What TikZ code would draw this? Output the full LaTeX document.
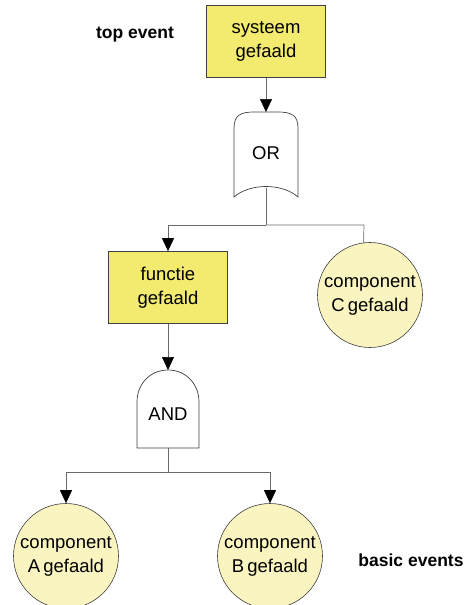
\documentclass[tikz,border=0pt]{standalone}
\usepackage{fontspec}
\setmainfont{Liberation Sans}
\usetikzlibrary{arrows.meta}
\definecolor{boxyellow}{RGB}{243,234,112}
\definecolor{evyellow}{RGB}{250,244,192}
\definecolor{wire}{RGB}{105,105,105}
\begin{document}
\begin{tikzpicture}[x=1pt,y=-1pt,
  wirestyle/.style={draw=wire,line width=0.7pt},
  arr/.style={wirestyle,-{Triangle[width=12pt,length=13pt,color=black,fill=black]}},
  eventbox/.style={draw=black!75,line width=0.7pt,fill=boxyellow,minimum width=119pt,minimum height=72pt,align=center,font=\fontsize{18.5}{24}\selectfont,inner sep=0pt},
  basicev/.style={circle,draw=black!75,line width=0.6pt,fill=evyellow,minimum size=105pt,align=center,font=\fontsize{18.5}{24}\selectfont,inner sep=0pt},
  gatestyle/.style={draw=black!75,line width=0.7pt,fill=white},
  gatelabel/.style={font=\fontsize{18.5}{22}\selectfont},
  sidelabel/.style={font=\bfseries\fontsize{17.5}{21}\selectfont}]
\useasboundingbox (0,0) rectangle (469,605);

% top event
\node[eventbox] (top) at (266,41.5) {systeem\\gefaald};
\node[sidelabel] (toplbl) at (135,35) {top event};

% OR gate
\draw[gatestyle] (234,197) -- (234,128) .. controls (234,115) and (241,112) .. (254,112)
  -- (278,112) .. controls (291,112) and (298,115) .. (298,128) -- (298,197)
  .. controls (282,183) and (250,183) .. (234,197) -- cycle;
\coordinate (ortop) at (266,112);
\coordinate (orbot) at (266,187.5);
\node[gatelabel] (orlbl) at (266,153) {OR};

% intermediate event and component C
\node[eventbox] (func) at (168,287.5) {functie\\gefaald};
\node[basicev] (C) at (370,295) {component\\C\,gefaald};

% AND gate
\draw[gatestyle] (137,448) -- (137,402) .. controls (137,384) and (150,370) .. (168,370)
  .. controls (186,370) and (199,384) .. (199,402) -- (199,448) -- cycle;
\coordinate (andtop) at (168,370);
\coordinate (andbot) at (168,448);
\node[gatelabel] (andlbl) at (168,414) {AND};

% basic events
\node[basicev] (A) at (66,556) {component\\A\,gefaald};
\node[basicev] (B) at (270,556) {component\\B\,gefaald};
\node[sidelabel] (baslbl) at (411,560) {basic events};

% connectors
\draw[arr] (top.south) -- (ortop);
\coordinate (orbar) at (266,225);
\draw[wirestyle] (orbot) -- (orbar);
\draw[arr] (orbar) -| (func.north);
\coordinate (cdrop) at (364,225);
\draw[wirestyle] (orbar) -- (cdrop) -- (C.97);
\draw[arr] (func.south) -- (andtop);
\coordinate (andbar) at (168,472);
\draw[wirestyle] (andbot) -- (andbar);
\draw[arr] (andbar) -| (A.north);
\draw[arr] (andbar) -| (B.north);
\end{tikzpicture}
\end{document}
